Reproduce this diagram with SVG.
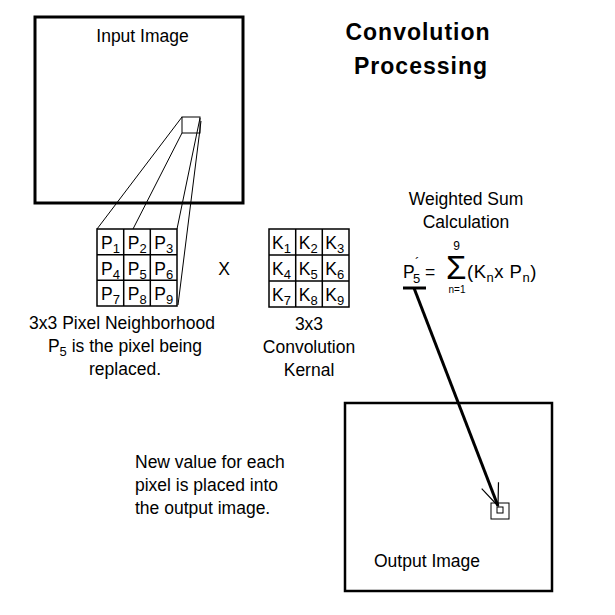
<svg xmlns="http://www.w3.org/2000/svg" width="615" height="615" viewBox="0 0 615 615">
<style>
text{font-family:"Liberation Sans",Arial,sans-serif;fill:#000}
.t{font-size:17.5px}
.c{text-anchor:middle}
.s{font-size:13px}
.box{fill:none;stroke:#000}
.cell{fill:none;stroke:#000;stroke-width:1.5}
.ln{stroke:#000;stroke-width:1;fill:none}
.title{font-size:23px;font-weight:bold;letter-spacing:1px;text-anchor:middle}
</style>
<defs>
<marker id="ah" markerUnits="userSpaceOnUse" markerWidth="30" markerHeight="30" refX="0" refY="0" viewBox="-26 -13 30 26" orient="auto" overflow="visible">
<path d="M-22,-9 L0,0 L-22,9" fill="none" stroke="#000" stroke-width="1.2"/>
</marker>
</defs>
<rect width="615" height="615" fill="#fff"/>

<g id="title">
<text class="title" x="418" y="40">Convolution</text>
<text class="title" x="421" y="74">Processing</text>
</g>

<g id="input-image">
<rect class="box" x="35" y="17" width="208" height="186" stroke-width="3"/>
<text class="t c" x="142.5" y="42">Input Image</text>
<rect class="ln" x="182" y="117" width="18" height="16"/>
</g>

<g id="connectors">
<line class="ln" x1="182" y1="117" x2="97" y2="229"/>
<line class="ln" x1="182" y1="133" x2="133" y2="229"/>
<line class="ln" x1="200" y1="118" x2="177" y2="229"/>
<line class="ln" x1="201" y1="121" x2="178" y2="305"/>
<line x1="414" y1="288" x2="498" y2="506" stroke="#000" stroke-width="3" marker-end="url(#ah)"/>
</g>

<g id="pixel-neighborhood">
<g class="cell">
<rect x="97" y="229" width="80" height="77"/>
<line x1="123.7" y1="229" x2="123.7" y2="306"/>
<line x1="150.3" y1="229" x2="150.3" y2="306"/>
<line x1="97" y1="254.7" x2="177" y2="254.7"/>
<line x1="97" y1="280.3" x2="177" y2="280.3"/>
</g>
<g class="t">
<text x="101" y="249">P<tspan class="s" dy="4">1</tspan></text>
<text x="127.7" y="249">P<tspan class="s" dy="4">2</tspan></text>
<text x="154.3" y="249">P<tspan class="s" dy="4">3</tspan></text>
<text x="101" y="274.7">P<tspan class="s" dy="4">4</tspan></text>
<text x="127.7" y="274.7">P<tspan class="s" dy="4">5</tspan></text>
<text x="154.3" y="274.7">P<tspan class="s" dy="4">6</tspan></text>
<text x="101" y="300.3">P<tspan class="s" dy="4">7</tspan></text>
<text x="127.7" y="300.3">P<tspan class="s" dy="4">8</tspan></text>
<text x="154.3" y="300.3">P<tspan class="s" dy="4">9</tspan></text>
</g>
<text class="t c" x="122" y="329">3x3 Pixel Neighborhood</text>
<text class="t c" x="125" y="352">P<tspan class="s" dy="4">5</tspan><tspan dy="-4"> is the pixel being</tspan></text>
<text class="t c" x="125" y="375">replaced.</text>
</g>

<g id="times">
<text class="t c" x="224" y="275">X</text>
</g>

<g id="kernel">
<g class="cell">
<rect x="269" y="229" width="80" height="78"/>
<line x1="295.7" y1="229" x2="295.7" y2="307"/>
<line x1="322.3" y1="229" x2="322.3" y2="307"/>
<line x1="269" y1="255" x2="349" y2="255"/>
<line x1="269" y1="281" x2="349" y2="281"/>
</g>
<g class="t">
<text x="272" y="249">K<tspan class="s" dy="4">1</tspan></text>
<text x="298.7" y="249">K<tspan class="s" dy="4">2</tspan></text>
<text x="325.3" y="249">K<tspan class="s" dy="4">3</tspan></text>
<text x="272" y="275">K<tspan class="s" dy="4">4</tspan></text>
<text x="298.7" y="275">K<tspan class="s" dy="4">5</tspan></text>
<text x="325.3" y="275">K<tspan class="s" dy="4">6</tspan></text>
<text x="272" y="301">K<tspan class="s" dy="4">7</tspan></text>
<text x="298.7" y="301">K<tspan class="s" dy="4">8</tspan></text>
<text x="325.3" y="301">K<tspan class="s" dy="4">9</tspan></text>
</g>
<text class="t c" x="309" y="330">3x3</text>
<text class="t c" x="309" y="353">Convolution</text>
<text class="t c" x="309" y="376">Kernal</text>
</g>

<g id="weighted-sum">
<text class="t c" x="466" y="205">Weighted Sum</text>
<text class="t c" x="466" y="228">Calculation</text>
<text class="t" x="403" y="278">P</text>
<text class="s" x="413" y="283">5</text>
<text class="s" x="415" y="267">´</text>
<text class="t" x="425" y="278">=</text>
<text x="446" y="279" font-size="33">Σ</text>
<text x="456.5" y="250" font-size="12" text-anchor="middle">9</text>
<text x="457" y="293" font-size="10" text-anchor="middle">n=1</text>
<text x="467" y="278" font-size="18.5" letter-spacing="0.5">(K<tspan class="s" dy="4">n</tspan><tspan dy="-4">x P</tspan><tspan class="s" dy="4">n</tspan><tspan dy="-4">)</tspan></text>
<line x1="403" y1="288" x2="426" y2="288" stroke="#000" stroke-width="3"/>
</g>

<g id="output-image">
<rect class="box" x="345" y="403" width="207" height="188" stroke-width="2.5"/>
<rect class="ln" x="491" y="503" width="18" height="16" stroke-width="1.2"/>
<rect class="ln" x="497" y="507" width="6" height="6" stroke-width="1.2"/>
<text class="t" x="374" y="567">Output Image</text>
</g>

<g id="note">
<text class="t" x="135" y="468">New value for each</text>
<text class="t" x="135" y="491">pixel is placed into</text>
<text class="t" x="135" y="514">the output image.</text>
</g>
</svg>
